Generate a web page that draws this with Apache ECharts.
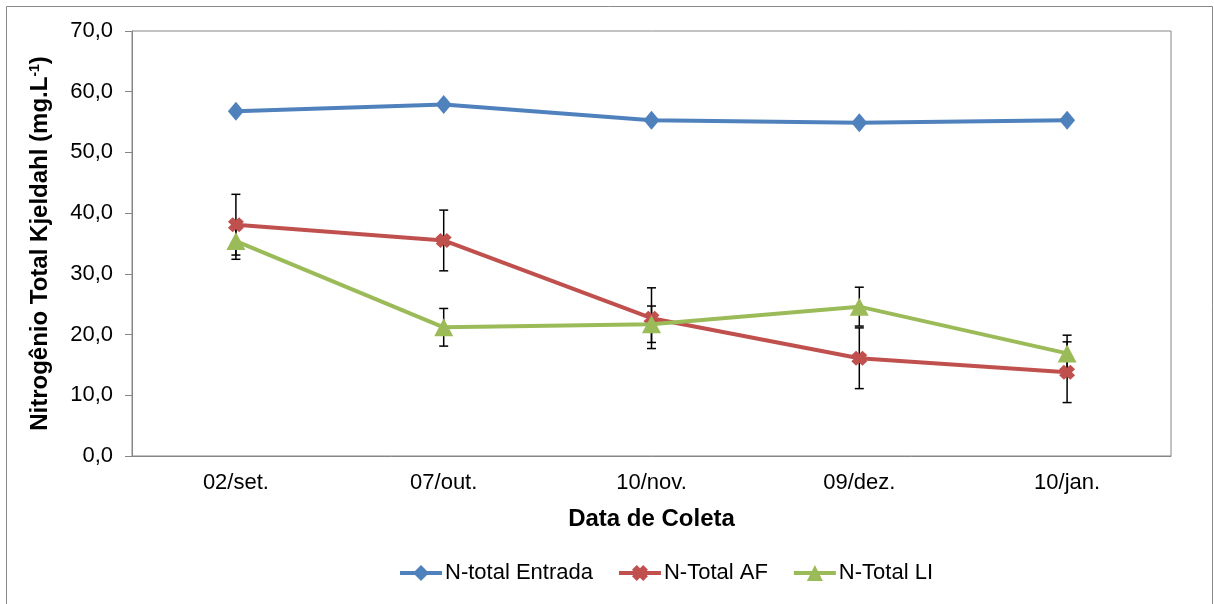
<!DOCTYPE html>
<html><head><meta charset="utf-8">
<script src="https://cdn.jsdelivr.net/npm/echarts@6/dist/echarts.min.js"></script>
<style>html,body{margin:0;padding:0;background:#fff}#c{width:1214px;height:604px}</style>
</head><body><div id="c"></div>
<script>
var categories = ['02/set.', '07/out.', '10/nov.', '09/dez.', '10/jan.'];
var entrada = [56.8, 57.9, 55.3, 54.9, 55.3];
var af = [38.1, 35.5, 22.7, 16.1, 13.8];
var afErr = [5.0, 5.0, 5.0, 5.0, 5.0];
var li = [35.4, 21.2, 21.7, 24.6, 16.9];
var liErr = [3.0, 3.1, 3.0, 3.2, 3.0];
var yTicks = [0, 10, 20, 30, 40, 50, 60, 70];

var FONT = 'Liberation Sans, Arial, sans-serif';
var xPath = 'path://M0,3 L3,0 L5,2 L7,0 L10,3 L8,5 L10,7 L7,10 L5,8 L3,10 L0,7 L2,5 Z';

function errData(vals, errs) {
  return vals.map(function (v, i) { return [i, v - errs[i], v + errs[i]]; });
}
function errRender(params, api) {
  var lo = api.coord([api.value(0), api.value(1)]);
  var hi = api.coord([api.value(0), api.value(2)]);
  var w = 4.5;
  var st = { stroke: '#000', lineWidth: 1.5 };
  return { type: 'group', children: [
    { type: 'line', shape: { x1: lo[0], y1: lo[1], x2: hi[0], y2: hi[1] }, style: st },
    { type: 'line', shape: { x1: lo[0] - w, y1: lo[1], x2: lo[0] + w, y2: lo[1] }, style: st },
    { type: 'line', shape: { x1: hi[0] - w, y1: hi[1], x2: hi[0] + w, y2: hi[1] }, style: st }
  ]};
}

var chart = echarts.init(document.getElementById('c'));
chart.setOption({
  animation: false,
  textStyle: { fontFamily: FONT },
  graphic: [{ type: 'rect', shape: { x: 6.5, y: 6.5, width: 1206, height: 700 }, style: { fill: 'none', stroke: '#898989', lineWidth: 1 }, silent: true }],
  grid: { left: 132, right: 43, top: 31, bottom: 148, show: true, borderColor: '#868686', borderWidth: 1 },
  legend: {
    top: 557, left: 393, itemWidth: 42, itemHeight: 20, itemGap: 24,
    lineStyle: { width: 4 },
    textStyle: { fontFamily: FONT, fontSize: 22, color: '#000', padding: [0, 0, 0, -2] },
    data: ['N-total Entrada', 'N-Total AF', 'N-Total LI']
  },
  xAxis: {
    type: 'category', data: categories, boundaryGap: true,
    axisLine: { lineStyle: { color: '#868686', width: 1 } },
    axisTick: { length: 7, lineStyle: { color: '#868686' } },
    axisLabel: { fontFamily: FONT, fontSize: 22, color: '#000', margin: 16 },
    name: 'Data de Coleta', nameLocation: 'middle', nameGap: 51,
    nameTextStyle: { fontFamily: FONT, fontSize: 24, fontWeight: 'bold', color: '#000' }
  },
  yAxis: {
    type: 'value', min: 0, max: 70, interval: 10,
    axisLine: { show: true, lineStyle: { color: '#868686', width: 1 } },
    axisTick: { show: true, length: 7, lineStyle: { color: '#868686' } },
    splitLine: { show: false },
    axisLabel: { fontFamily: FONT, fontSize: 22, color: '#000', margin: 19,
      formatter: function (v) { return yTicks.indexOf(v) >= 0 ? v.toFixed(1).replace('.', ',') : ''; } },
    name: 'Nitrogênio Total Kjeldahl (mg.L{sup|-1})', nameLocation: 'middle', nameGap: 79,
    nameTextStyle: { fontFamily: FONT, fontSize: 24, fontWeight: 'bold', color: '#000',
      rich: { sup: { fontSize: 14, fontWeight: 'bold', verticalAlign: 'top', padding: [0, 0, 11, 0], color: '#000' } } }
  },
  series: [
    { type: 'custom', name: 'errAF', renderItem: errRender, data: errData(af, afErr), z: 1, silent: true },
    { type: 'custom', name: 'errLI', renderItem: errRender, data: errData(li, liErr), z: 1, silent: true },
    { type: 'line', name: 'N-total Entrada', data: entrada, z: 3,
      symbol: 'diamond', symbolSize: [16, 19],
      lineStyle: { color: '#4F81BD', width: 4 }, itemStyle: { color: '#4F81BD' } },
    { type: 'line', name: 'N-Total AF', data: af, z: 3,
      symbol: xPath, symbolSize: [16, 15],
      lineStyle: { color: '#C0504D', width: 4 }, itemStyle: { color: '#C0504D' } },
    { type: 'line', name: 'N-Total LI', data: li, z: 4,
      symbol: 'triangle', symbolSize: [19, 18],
      lineStyle: { color: '#9BBB59', width: 4 }, itemStyle: { color: '#9BBB59' } }
  ]
});
</script></body></html>
